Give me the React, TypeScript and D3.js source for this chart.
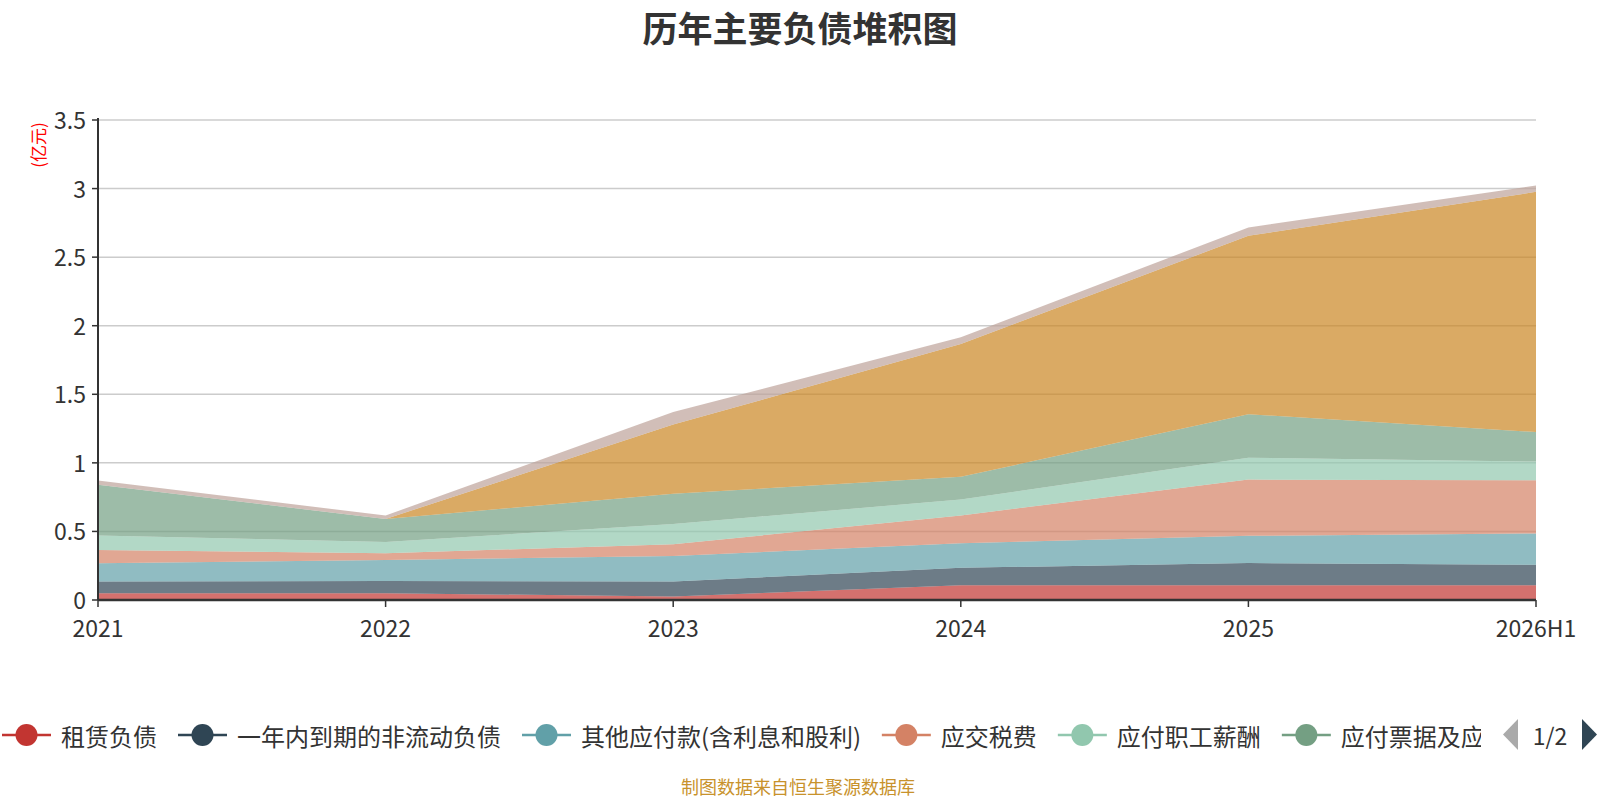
import React from 'react';
import * as d3 from 'd3';

const years = ['2021', '2022', '2023', '2024', '2025', '2026H1'];
const seriesNames = [
  '租赁负债',
  '一年内到期的非流动负债',
  '其他应付款(含利息和股利)',
  '应交税费',
  '应付职工薪酬',
  '应付票据及应付账款',
  '合同负债',
  '其他流动负债',
];
const leaseLiab = [0.049, 0.049, 0.026, 0.107, 0.107, 0.107];
const currentNonCurrent = [0.085, 0.09, 0.108, 0.128, 0.162, 0.15];
const otherPayables = [0.134, 0.153, 0.187, 0.179, 0.199, 0.228];
const taxesPayable = [0.097, 0.049, 0.086, 0.202, 0.41, 0.388];
const payroll = [0.105, 0.082, 0.147, 0.117, 0.16, 0.136];
const notesAccounts = [0.37, 0.168, 0.221, 0.165, 0.317, 0.216];
const contractLiab = [0, 0, 0.504, 0.968, 1.301, 1.751];
const otherCurrent = [0.031, 0.025, 0.092, 0.049, 0.061, 0.046];
const seriesValues = [leaseLiab, currentNonCurrent, otherPayables, taxesPayable, payroll, notesAccounts, contractLiab, otherCurrent];
const yTicks = [0, 0.5, 1, 1.5, 2, 2.5, 3, 3.5];
const palette = ['#c23531', '#2f4554', '#61a0a8', '#d48265', '#91c7ae', '#749f83', '#ca8622', '#bda29a'];

const W = 1600, H = 800;
const left = 98, right = 1536, top = 120, bottom = 600;
const font = '"Noto Sans CJK SC", "Noto Sans", sans-serif';

export default function App() {
  const x = d3.scalePoint<string>().domain(years).range([left, right]);
  const y = d3.scaleLinear().domain([0, 3.5]).range([bottom, top]);
  const rows = years.map((yr, i) => {
    const r: any = { year: yr };
    seriesNames.forEach((n, k) => (r[n] = seriesValues[k][i]));
    return r;
  });
  const stacked = d3.stack<any>().keys(seriesNames)(rows);
  const area = d3
    .area<any>()
    .x((d) => x(d.data.year) as number)
    .y0((d) => y(d[0]))
    .y1((d) => y(d[1]));

  // legend layout
  const fs = 24;
  const textW = (s: string) =>
    Array.from(s).reduce((a, c) => a + (/[\u4e00-\u9fff]/.test(c) ? fs : fs * 0.33), 0);
  let cx = 2;
  const legendItems = seriesNames.slice(0, 6).map((n, i) => {
    const it = { name: n, x: cx, color: palette[i] };
    cx += 49 + 10 + textW(n) + 21;
    return it;
  });
  const ly = 735;

  return (
    <svg width={W} height={H} style={{ position: 'absolute', left: 0, top: 0, background: '#fff' }} fontFamily={font}>
      <defs>
        <clipPath id="legclip">
          <rect x={0} y={690} width={1481} height={90} />
        </clipPath>
      </defs>
      <text x={800} y={26} textAnchor="middle" dominantBaseline="central" fontSize={35} fontWeight="bold" fill="#333">
        历年主要负债堆积图
      </text>
      {yTicks.map((t) => (
        <g key={t}>
          {t > 0 && <line x1={left} x2={right} y1={y(t)} y2={y(t)} stroke="#ccc" strokeWidth={1.5} />}
          <line x1={left - 6} x2={left} y1={y(t)} y2={y(t)} stroke="#333" strokeWidth={1.5} />
          <text x={left - 12} y={y(t) - 1} textAnchor="end" dominantBaseline="central" fontSize={23} fill="#333">
            {t}
          </text>
        </g>
      ))}
      {stacked.map((s, i) => (
        <path key={s.key} d={area(s) as string} fill={palette[i]} fillOpacity={0.7} stroke="none" />
      ))}
      <line x1={left} x2={left} y1={top - 2} y2={bottom} stroke="#333" strokeWidth={2} />
      <line x1={left} x2={right} y1={bottom} y2={bottom} stroke="#333" strokeWidth={2.5} />
      {years.map((yr) => (
        <g key={yr}>
          <line x1={x(yr)} x2={x(yr)} y1={bottom} y2={bottom + 7} stroke="#333" strokeWidth={1.5} />
          <text x={x(yr)} y={bottom + 27} textAnchor="middle" dominantBaseline="central" fontSize={23} fill="#333">
            {yr}
          </text>
        </g>
      ))}
      <text
        transform={`translate(37,145) rotate(-90)`}
        textAnchor="middle"
        dominantBaseline="central"
        fontSize={17}
        fill="#ff0000"
      >
        (亿元)
      </text>
      <g clipPath="url(#legclip)">
        {legendItems.map((it) => (
          <g key={it.name}>
            <line x1={it.x} x2={it.x + 49} y1={ly} y2={ly} stroke={it.color} strokeWidth={2.5} />
            <circle cx={it.x + 24.5} cy={ly} r={11} fill={it.color} />
            <text x={it.x + 59} y={ly} dominantBaseline="central" fontSize={fs} fill="#333">
              {it.name}
            </text>
          </g>
        ))}
      </g>
      <path d={`M1518,719 L1503,734.5 L1518,750 Z`} fill="#aaa" />
      <text x={1550} y={ly} textAnchor="middle" dominantBaseline="central" fontSize={23} fill="#333">
        1/2
      </text>
      <path d={`M1582,719 L1597,734.5 L1582,750 Z`} fill="#2f4554" />
      <text x={798} y={786} textAnchor="middle" dominantBaseline="central" fontSize={18} fill="#c8922c">
        制图数据来自恒生聚源数据库
      </text>
    </svg>
  );
}
